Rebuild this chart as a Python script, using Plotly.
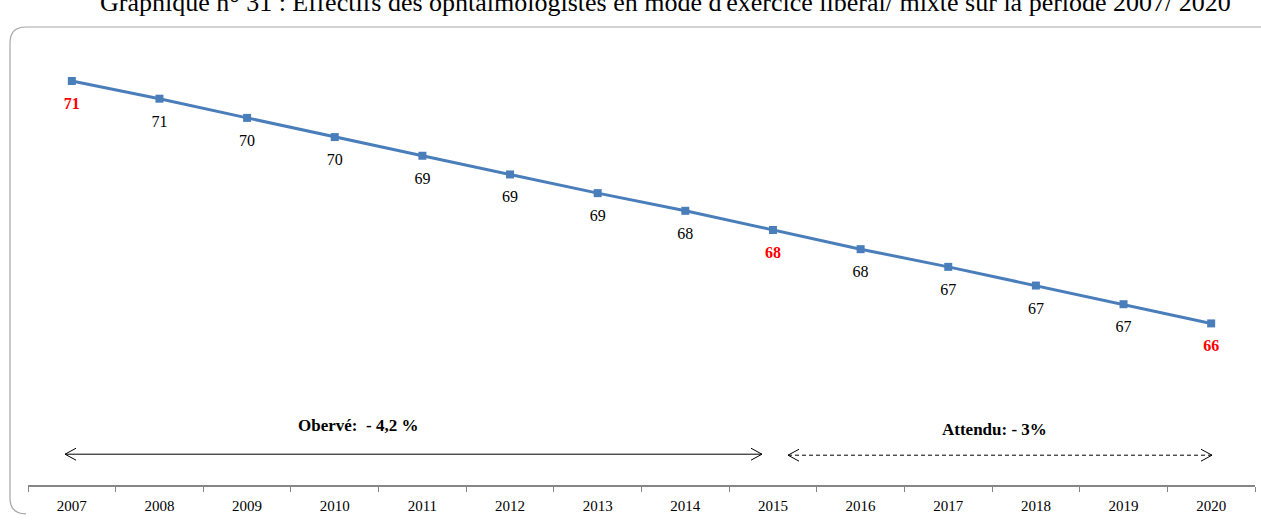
import plotly.graph_objects as go

years = ["2007", "2008", "2009", "2010", "2011", "2012", "2013",
         "2014", "2015", "2016", "2017", "2018", "2019", "2020"]
effectifs = [70.95, 70.60, 70.22, 69.84, 69.47, 69.10, 68.73,
             68.38, 68.00, 67.62, 67.27, 66.90, 66.53, 66.15]
highlight_years = ["2007", "2015", "2020"]
label_observe = "Obervé:  - 4,2 %"
label_attendu = "Attendu: - 3%"
title_text = ("Graphique n° 31 : Effectifs des ophtalmologistes en mode d'exercice "
              "libéral/ mixte sur la période 2007/ 2020")

W, H = 1261, 520
ML, MR, MT, MB = 28, 6, 28, 32
PW, PH = W - ML - MR, H - MT - MB


def px(x):
    return (x - ML) / PW


def py(y):
    return (H - MB - y) / PH


texts, colors = [], []
for yr, v in zip(years, effectifs):
    t = f"{round(v)}"
    if yr in highlight_years:
        texts.append(f"<b>{t}</b>")
        colors.append("#ff0000")
    else:
        texts.append(t)
        colors.append("#000000")

fig = go.Figure()
fig.add_trace(go.Scatter(
    x=years, y=effectifs, mode="lines+markers",
    line=dict(color="#4a7ebb", width=3),
    marker=dict(symbol="square", size=8, color="#4a7ebb"),
    cliponaxis=False, hoverinfo="skip", showlegend=False,
))
fig.add_trace(go.Scatter(
    x=years, y=effectifs, mode="markers+text",
    marker=dict(size=24, color="rgba(0,0,0,0)"),
    text=texts, textposition="bottom center",
    textfont=dict(family="Liberation Serif, serif", size=16, color=colors),
    cliponaxis=False, hoverinfo="skip", showlegend=False,
))

shapes = []
# rounded frame
r = 16
x0, y0 = 10, 27
x1, y1 = W + 20, H - 3
frame = (f"M {px(x0)},{py(y1 - r)} L {px(x0)},{py(y0 + r)} "
         f"Q {px(x0)},{py(y0)} {px(x0 + r)},{py(y0)} "
         f"L {px(x1)},{py(y0)}")
shapes.append(dict(type="path", xref="paper", yref="paper", path=frame,
                   line=dict(color="#a6a6a6", width=1.2)))
frame_b = (f"M {px(x0)},{py(y1 - r)} Q {px(x0)},{py(y1)} {px(x0 + r)},{py(y1)}")
shapes.append(dict(type="path", xref="paper", yref="paper", path=frame_b,
                   line=dict(color="#a6a6a6", width=1.2)))


def arrow(xa, xb, y, dash):
    out = [dict(type="line", xref="paper", yref="paper",
                x0=px(xa), x1=px(xb), y0=py(y), y1=py(y),
                line=dict(color="#000000", width=1, dash=dash))]
    for tip, d in ((xa, 1), (xb, -1)):
        path = (f"M {px(tip + d * 11)},{py(y - 6)} L {px(tip)},{py(y)} "
                f"L {px(tip + d * 11)},{py(y + 6)}")
        out.append(dict(type="path", xref="paper", yref="paper", path=path,
                        line=dict(color="#000000", width=1)))
    return out


shapes += arrow(65, 762, 457, "solid")
shapes += arrow(788, 1212, 458, "4px,3px")

annotations = [
    dict(text=f"<b>{label_observe}</b>", x=px(358), y=py(428), xref="paper",
         yref="paper", showarrow=False, xanchor="center", yanchor="middle",
         font=dict(family="Liberation Serif, serif", size=17, color="#000")),
    dict(text=f"<b>{label_attendu}</b>", x=px(994), y=py(432), xref="paper",
         yref="paper", showarrow=False, xanchor="center", yanchor="middle",
         font=dict(family="Liberation Serif, serif", size=17, color="#000")),
    dict(text=title_text, x=px(665), y=py(2), xref="paper", yref="paper",
         showarrow=False, xanchor="center", yanchor="middle",
         font=dict(family="Liberation Serif, serif", size=26, color="#000")),
]

fig.update_layout(
    width=W, height=H,
    margin=dict(l=ML, r=MR, t=MT, b=MB),
    paper_bgcolor="white", plot_bgcolor="white",
    shapes=shapes, annotations=annotations,
    xaxis=dict(type="category", range=[-0.5, 13.5], showgrid=False,
               showline=True, linecolor="#868686", linewidth=1.5,
               ticks="outside", tickson="boundaries", ticklen=5,
               tickcolor="#868686", tickwidth=1,
               ticklabelstandoff=6,
               tickfont=dict(family="Liberation Serif, serif", size=15,
                             color="#000"),
               zeroline=False, fixedrange=True),
    yaxis=dict(range=[62.95, 72.0], visible=False, showgrid=False,
               zeroline=False, fixedrange=True),
)

fig.write_html("out.html",
               config={"displayModeBar": False},
               post_script="document.body.style.margin='0';"
                           "document.body.style.overflow='hidden';")
